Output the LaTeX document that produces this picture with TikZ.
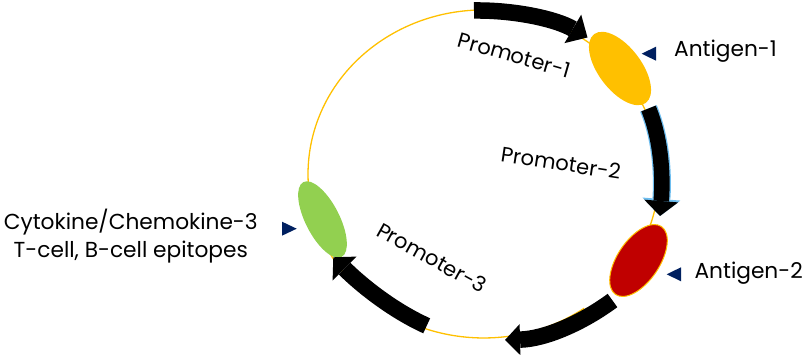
\documentclass[tikz,border=0pt]{standalone}
\usepackage{fontspec}
\setmainfont{Poppins}
\usetikzlibrary{arrows.meta,shapes.geometric}
\definecolor{ringyellow}{HTML}{FFC000}
\definecolor{agred}{HTML}{C00000}
\definecolor{aggreen}{HTML}{92D050}
\definecolor{navy}{HTML}{002060}
\definecolor{outlineblue}{RGB}{110,190,240}
\tikzset{
  ring/.style={draw=ringyellow, line width=1.3pt},
  genebox/.style={ellipse, inner sep=0pt, outer sep=0pt},
  promarrow/.style={draw=black, line width=16.5pt},
  lbl/.style={font=\fontsize{21}{25}\selectfont, inner sep=0pt, text=black},
  biglbl/.style={lbl, font=\fontsize{21.7}{26}\selectfont},
  marker/.style={fill=navy},
}
\begin{document}
\begin{tikzpicture}[x=1pt,y=-1pt]
\useasboundingbox (0,0) rectangle (807,355);
% plasmid ring (the part hidden under the lower-right arrow is left out)
\draw[ring] (584.2,308.3) arc[start angle=55, end angle=395, x radius=175.5, y radius=164];

% genes
\node[genebox, fill=ringyellow, minimum width=86pt, minimum height=43pt, rotate=-53] (ag1) at (620,68.5) {};
\node[genebox, fill=agred, draw=ringyellow, line width=1pt, minimum width=82pt, minimum height=42pt, rotate=56] (ag2) at (638.5,260.5) {};
\node[genebox, fill=aggreen, minimum width=84pt, minimum height=34pt, rotate=-63] (ck3) at (322.5,219.5) {};

% arrow end points
\coordinate (p1s) at (474,10.5);
\coordinate (p1e) at (587.5,37.5);
\coordinate (p2s) at (648.5,108.5);
\coordinate (p2e) at (660,216);
\coordinate (p4s) at (612.5,300.5);
\coordinate (p4e) at (505,340);
\coordinate (p3s) at (426.7,325.8);
\coordinate (p3e) at (333.3,257.3);

% Promoter-1
\draw[promarrow, -{Triangle[length=17pt,width=33pt,line width=0pt]}]
  (p1s) .. controls (514.6,10) and (556,19) .. (p1e);
% Promoter-2 (with light blue outline)
\draw[draw=outlineblue, line width=18pt, -{Triangle[length=17pt,width=38pt,line width=0pt]}]
  (p2s) .. controls (662.2,141.6) and (662.9,180) .. (p2e);
\draw[promarrow, line width=15.5pt, -{Triangle[length=15pt,width=34pt,line width=0pt]}]
  (p2s) .. controls (662.2,141.6) and (662.9,180) .. (p2e);
% lower-right arrow
\draw[promarrow, -{Triangle[length=15pt,width=31pt,line width=0pt]}]
  (p4s) .. controls (582,323) and (545,339) .. (p4e);
% Promoter-3
\draw[promarrow, -{Triangle[length=16pt,width=34pt,line width=0pt]}]
  (p3s) .. controls (392.1,310.2) and (360.2,284.2) .. (p3e);

% labels
\node[lbl, anchor=base west, rotate=-16] (t1) at (456.7,46.7) {Promoter-1};
\node[lbl, anchor=base west, rotate=-8.6] (t2) at (500,161.7) {Promoter-2};
\node[lbl, anchor=base west, rotate=-29] (t3) at (375,235) {Promoter-3};

\node[biglbl, anchor=base east] (l1) at (777,56.7) {Antigen-1};
\node[biglbl, anchor=base east] (l2) at (803,278.3) {Antigen-2};
\node[biglbl, anchor=base] (l3a) at (130.8,230) {Cytokine/Chemokine-3};
\node[biglbl, anchor=base] (l3b) at (130.8,257.3) {T-cell, B-cell epitopes};

% markers
\fill[marker] (641.7,53.7) -- (656,46.7) -- (656,60.7) -- cycle;
\fill[marker] (666.7,274.3) -- (681,267.3) -- (681,281.3) -- cycle;
\fill[marker] (296.7,228.7) -- (282,221.7) -- (282,235.7) -- cycle;
\end{tikzpicture}
\end{document}
